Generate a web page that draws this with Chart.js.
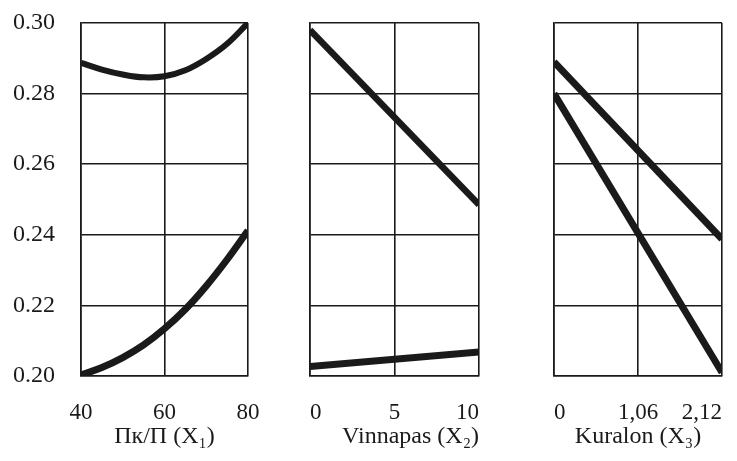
<!DOCTYPE html>
<html>
<head>
<meta charset="utf-8">
<script src="https://cdn.jsdelivr.net/npm/chart.js@4/dist/chart.umd.min.js"></script>
<style>
  html, body { margin: 0; padding: 0; background: #fff; overflow: hidden; }
  #wrap { position: relative; width: 737px; height: 461px; background: #fff; }
  canvas { position: absolute; top: 0; }
</style>
</head>
<body>
<div id="wrap">
  <canvas id="c1" width="260" height="461" style="left:0px"></canvas>
  <canvas id="c2" width="200" height="461" style="left:290px"></canvas>
  <canvas id="c3" width="203" height="461" style="left:534px"></canvas>
</div>
<script>
// ---- data ----
const yTickValues = [0.20, 0.22, 0.24, 0.26, 0.28, 0.30];

const x1Values = [40, 45, 50, 55, 60, 65, 70, 75, 80];
const x1Upper  = [0.2887, 0.2868, 0.2854, 0.2846, 0.2849, 0.2866, 0.2898, 0.2941, 0.3000];
const x1Lower  = [0.2003, 0.2024, 0.2052, 0.2088, 0.2134, 0.2189, 0.2255, 0.2330, 0.2412];
const x1Ticks  = [40, 60, 80];
const x1Title  = 'Пк/П (X\u2081)';

const x2Values = [0, 10];
const x2Upper  = [0.2980, 0.2485];
const x2Lower  = [0.2027, 0.2068];
const x2Ticks  = [0, 5, 10];
const x2Title  = 'Vinnapas (X\u2082)';

const x3Values = [0, 2.12];
const x3Upper  = [0.2890, 0.2388];
const x3Lower  = [0.2800, 0.2010];
const x3Ticks  = [0, 1.06, 2.12];
const x3TickLabels = ['0', '1,06', '2,12'];
const x3Title  = 'Kuralon (X\u2083)';

// ---- helpers ----
const INK = '#1a1a1a';
const SERIF = "'Liberation Serif', 'Times New Roman', serif";

function pts(xs, ys) { return xs.map((x, i) => ({ x: x, y: ys[i] })); }

function makePanel(id, cfg) {
  const ctx = document.getElementById(id);
  return new Chart(ctx, {
    type: 'line',
    data: {
      datasets: cfg.series.map(s => ({
        data: pts(cfg.xs, s.ys),
        borderColor: INK,
        borderWidth: s.width,
        pointRadius: 0,
        tension: s.curve ? 0.4 : 0,
        fill: false
      }))
    },
    options: {
      responsive: false,
      animation: false,
      devicePixelRatio: 1,
      layout: { padding: { top: 23, right: cfg.padRight, left: 0, bottom: 0 } },
      plugins: { legend: { display: false }, tooltip: { enabled: false } },
      scales: {
        x: {
          type: 'linear',
          min: cfg.xTicks[0],
          max: cfg.xTicks[cfg.xTicks.length - 1],
          afterBuildTicks: sc => { sc.ticks = cfg.xTicks.map(v => ({ value: v })); },
          afterFit: sc => { sc.height = 85; sc.paddingLeft = 0; sc.paddingRight = 0; },
          grid: { color: INK, lineWidth: 1.6, drawTicks: false },
          border: { display: true, color: INK, width: 1.6 },
          ticks: {
            color: INK,
            padding: 23,
            align: cfg.tickAlign,
            maxRotation: 0,
            autoSkip: false,
            font: { family: SERIF, size: 23 },
            callback: (v, i) => cfg.xLabels ? cfg.xLabels[i] : String(v)
          },
          title: {
            display: true,
            text: cfg.title,
            align: cfg.titleAlign,
            color: INK,
            padding: { top: 0, bottom: 10 },
            font: { family: SERIF, size: 24 }
          }
        },
        y: {
          type: 'linear',
          min: 0.20,
          max: 0.30,
          afterBuildTicks: sc => { sc.ticks = yTickValues.map(v => ({ value: v })); },
          afterFit: sc => { sc.width = cfg.yWidth; sc.paddingTop = 0; sc.paddingBottom = 0; },
          grid: { color: INK, lineWidth: 1.6, drawTicks: false },
          border: { display: true, color: INK, width: 1.6 },
          ticks: {
            display: cfg.showY,
            color: INK,
            padding: 26,
            font: { family: SERIF, size: 24 },
            callback: v => Number(v).toFixed(2)
          }
        }
      }
    }
  });
}

makePanel('c1', {
  xs: x1Values, xTicks: x1Ticks, title: x1Title,
  series: [ { ys: x1Upper, width: 6, curve: true }, { ys: x1Lower, width: 7, curve: true } ],
  yWidth: 81, padRight: 12, showY: true, tickAlign: 'center', titleAlign: 'center'
});
makePanel('c2', {
  xs: x2Values, xTicks: x2Ticks, title: x2Title,
  series: [ { ys: x2Upper, width: 6.5 }, { ys: x2Lower, width: 7 } ],
  yWidth: 20, padRight: 11, showY: false, tickAlign: 'inner', titleAlign: 'end'
});
makePanel('c3', {
  xs: x3Values, xTicks: x3Ticks, xLabels: x3TickLabels, title: x3Title,
  series: [ { ys: x3Upper, width: 7 }, { ys: x3Lower, width: 7 } ],
  yWidth: 20, padRight: 15, showY: false, tickAlign: 'inner', titleAlign: 'center'
});
</script>
</body>
</html>
